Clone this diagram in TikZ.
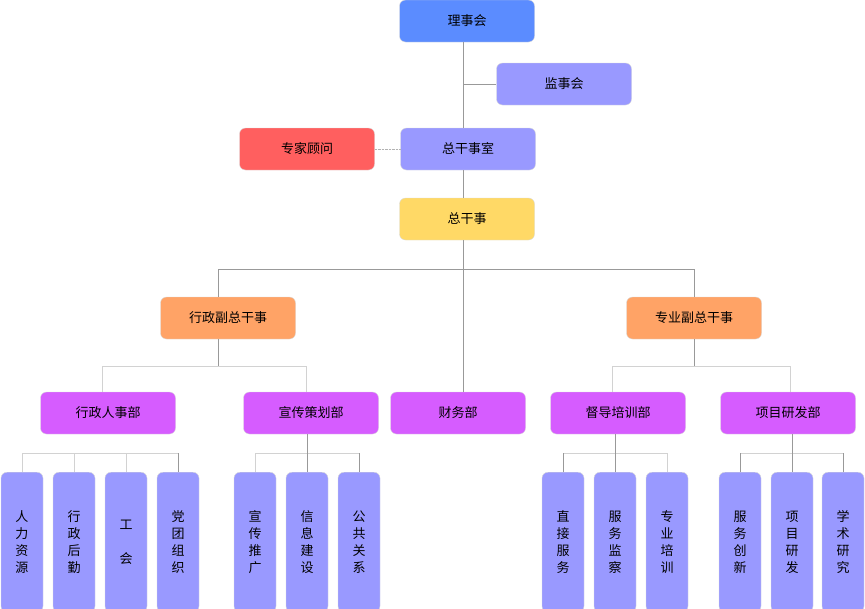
\documentclass[tikz,border=0pt]{standalone}
\usepackage{fontspec}
\setmainfont{Noto Sans CJK SC}
\begin{document}
\begin{tikzpicture}[x=1pt,y=-1pt,
 box/.style={rounded corners=6pt,minimum width=135pt,minimum height=42pt,inner sep=0pt,font=\fontsize{13}{15}\selectfont,draw=black!15},
 leaf/.style={rounded corners=6pt,minimum width=42pt,minimum height=140pt,inner sep=0pt,font=\fontsize{13}{17}\selectfont,fill=lav,draw=black!15,align=center,anchor=north},
 ln/.style={draw=gray!80,line width=0.8pt},
 lt/.style={draw=gray!35,line width=0.8pt}]
\definecolor{blu}{HTML}{5B8CFF}
\definecolor{lav}{HTML}{9999FF}
\definecolor{rd}{HTML}{FF5F5F}
\definecolor{yl}{HTML}{FFD966}
\definecolor{org}{HTML}{FFA366}
\definecolor{mag}{HTML}{D65CFF}
\useasboundingbox (0,0) rectangle (865,608);
\begin{scope}
\clip (0,0) rectangle (865,608);
\node[box,fill=blu] (ls) at (467,21) {理事会};
\node[box,fill=lav] (js) at (564,84) {监事会};
\node[box,fill=rd] (zj) at (307,149) {专家顾问};
\node[box,fill=lav] (zgs) at (468,149) {总干事室};
\node[box,fill=yl] (zg) at (467,219) {总干事};
\node[box,fill=org] (xz) at (228,318) {行政副总干事};
\node[box,fill=org] (zy) at (694,318) {专业副总干事};
\node[box,fill=mag] (rs) at (108,413) {行政人事部};
\node[box,fill=mag] (xc) at (311,413) {宣传策划部};
\node[box,fill=mag] (cw) at (458,413) {财务部};
\node[box,fill=mag] (dd) at (618,413) {督导培训部};
\node[box,fill=mag] (xm) at (788,413) {项目研发部};
\node[leaf] (a1) at (22,472) {人\\力\\资\\源};
\node[leaf] (a2) at (74,472) {行\\政\\后\\勤};
\node[leaf] (a3) at (126,472) {工\\[17pt]会};
\node[leaf] (a4) at (178,472) {党\\团\\组\\织};
\node[leaf] (b1) at (255,472) {宣\\传\\推\\广};
\node[leaf] (b2) at (307,472) {信\\息\\建\\设};
\node[leaf] (b3) at (359,472) {公\\共\\关\\系};
\node[leaf] (c1) at (563,472) {直\\接\\服\\务};
\node[leaf] (c2) at (615,472) {服\\务\\监\\察};
\node[leaf] (c3) at (667,472) {专\\业\\培\\训};
\node[leaf] (d1) at (740,472) {服\\务\\创\\新};
\node[leaf] (d2) at (792,472) {项\\目\\研\\发};
\node[leaf] (d3) at (843,472) {学\\术\\研\\究};
\end{scope}
% connectors
\coordinate (m1) at (463,84);
\draw[ln] (ls.south -| m1) -- (zgs.north -| m1);
\draw[ln] (m1) -- (js.west);
\draw[gray!60,densely dotted] (zj.east) -- (zgs.west);
\draw[ln] (zgs.south -| m1) -- (zg.north -| m1);
\draw[ln] (zg.south -| m1) -- (cw.north -| m1);
\coordinate (h1) at (218,269);
\coordinate (h2) at (694,269);
\draw[ln] (h1) -- (h2);
\draw[ln] (h1) -- (xz.north -| h1);
\draw[ln] (h2) -- (zy.north);
\coordinate (p1) at (218,366);
\draw[ln] (xz.south -| p1) -- (p1);
\draw[lt] (102,366) -- (306,366);
\draw[lt] (102,366) -- (rs.north -| 102,0);
\draw[lt] (306,366) -- (xc.north -| 306,0);
\draw[ln] (zy.south) -- (694,366);
\draw[lt] (612,366) -- (790,366);
\draw[lt] (612,366) -- (dd.north -| 612,0);
\draw[lt] (790,366) -- (xm.north -| 790,0);
% leaves
\draw[lt] (22,453) -- (178,453);
\draw[lt] (22,453) -- (a1.north); \draw[lt] (74,453) -- (a2.north);
\draw[lt] (126,453) -- (a3.north); \draw[ln] (178,453) -- (a4.north);
\draw[lt] (255,453) -- (359,453);
\draw[ln] (xc.south -| b2) -- (b2.north);
\draw[lt] (255,453) -- (b1.north); \draw[ln] (359,453) -- (b3.north);
\draw[lt] (563,453) -- (667,453);
\draw[ln] (dd.south -| c2) -- (c2.north);
\draw[ln] (563,453) -- (c1.north); \draw[lt] (667,453) -- (c3.north);
\draw[lt] (740,453) -- (843,453);
\draw[ln] (xm.south -| d2) -- (d2.north);
\draw[ln] (740,453) -- (d1.north); \draw[ln] (843,453) -- (d3.north);
\end{tikzpicture}
\end{document}
